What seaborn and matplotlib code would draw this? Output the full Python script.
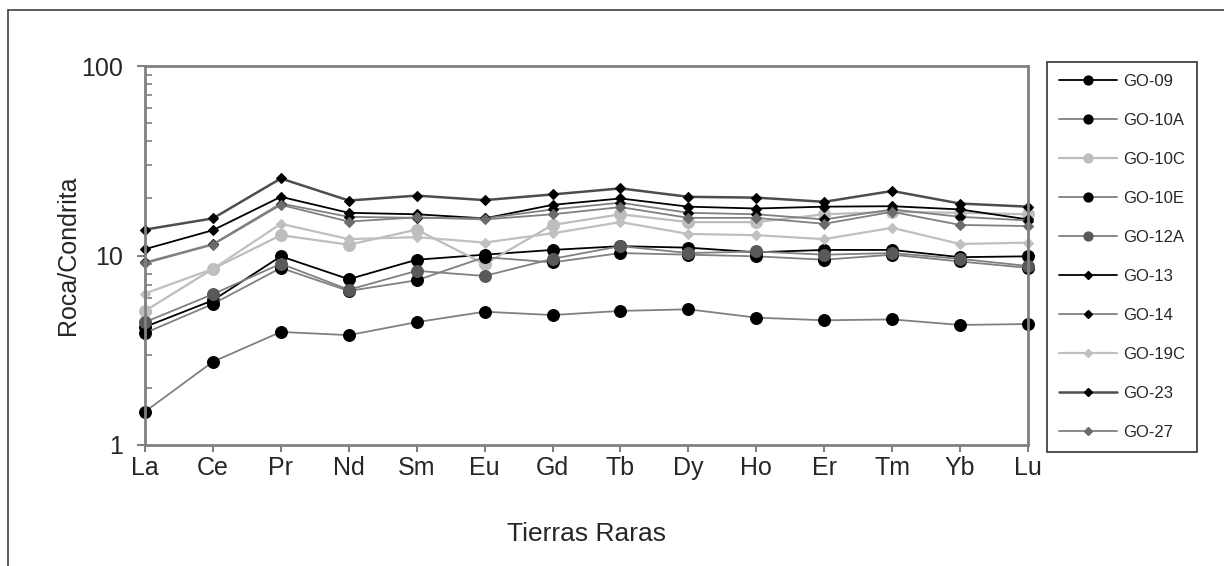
import numpy as np
import pandas as pd
import matplotlib
matplotlib.use("Agg")
import matplotlib.pyplot as plt
from matplotlib.lines import Line2D
import seaborn as sns

elements = ["La", "Ce", "Pr", "Nd", "Sm", "Eu", "Gd", "Tb", "Dy", "Ho", "Er", "Tm", "Yb", "Lu"]
samples = ["GO-09", "GO-10A", "GO-10C", "GO-10E", "GO-12A", "GO-13", "GO-14", "GO-19C", "GO-23", "GO-27"]

go_09 = [4.2, 5.8, 9.9, 7.5, 9.5, 10.1, 10.7, 11.2, 11.0, 10.4, 10.7, 10.7, 9.8, 9.9]
go_10a = [1.5, 2.75, 3.95, 3.8, 4.45, 5.05, 4.85, 5.1, 5.2, 4.7, 4.55, 4.6, 4.3, 4.35]
go_10c = [5.1, 8.5, 12.8, 11.4, 13.7, 9.0, 14.5, 16.5, 15.0, 15.0, 16.5, 17.0, 16.8, 16.5]
go_10e = [3.9, 5.55, 8.6, 6.5, 7.4, 9.8, 9.2, 10.3, 10.1, 9.9, 9.5, 10.1, 9.3, 8.6]
go_12a = [4.45, 6.25, 9.05, 6.6, 8.3, 7.8, 9.6, 11.2, 10.3, 10.5, 10.1, 10.3, 9.6, 8.8]
go_13 = [10.8, 13.6, 20.4, 16.8, 16.5, 15.7, 18.5, 20.0, 18.1, 17.7, 18.1, 18.2, 17.5, 15.5]
go_14 = [9.2, 11.5, 18.8, 16.0, 15.8, 15.7, 17.5, 19.0, 16.8, 16.5, 15.5, 17.5, 16.0, 15.3]
go_19c = [6.3, 8.5, 14.7, 12.2, 12.5, 11.7, 13.1, 15.0, 13.0, 12.8, 12.2, 14.0, 11.5, 11.7]
go_23 = [13.7, 15.7, 25.5, 19.5, 20.7, 19.6, 21.0, 22.6, 20.4, 20.2, 19.2, 21.9, 18.8, 18.1]
go_27 = [9.1, 11.4, 18.5, 15.1, 15.9, 15.5, 16.5, 18.0, 15.8, 15.8, 14.7, 17.0, 14.5, 14.3]

series = [go_09, go_10a, go_10c, go_10e, go_12a, go_13, go_14, go_19c, go_23, go_27]

styles = {
    "GO-09": dict(color="#000000", marker="o", mfc="#000000", ms=8.5, lw=1.3),
    "GO-10A": dict(color="#808080", marker="o", mfc="#000000", ms=8.5, lw=1.3),
    "GO-10C": dict(color="#BDBDBD", marker="o", mfc="#BDBDBD", ms=8.5, lw=1.6),
    "GO-10E": dict(color="#808080", marker="o", mfc="#000000", ms=8.5, lw=1.3),
    "GO-12A": dict(color="#808080", marker="o", mfc="#595959", ms=8.5, lw=1.3),
    "GO-13": dict(color="#000000", marker="D", mfc="#000000", ms=5.5, lw=1.3),
    "GO-14": dict(color="#808080", marker="D", mfc="#000000", ms=5.5, lw=1.3),
    "GO-19C": dict(color="#C0C0C0", marker="D", mfc="#C0C0C0", ms=5.5, lw=1.6),
    "GO-23": dict(color="#4D4D4D", marker="D", mfc="#000000", ms=5.5, lw=1.8),
    "GO-27": dict(color="#808080", marker="D", mfc="#6B6B6B", ms=5.5, lw=1.3),
}

rows = []
for name, vals in zip(samples, series):
    for i, (el, v) in enumerate(zip(elements, vals)):
        rows.append({"sample": name, "pos": i, "element": el, "value": v})
df = pd.DataFrame(rows)

sns.set_style("ticks")
plt.rcParams["font.family"] = ["Liberation Sans", "DejaVu Sans"]

fig = plt.figure(figsize=(12.24, 5.66), dpi=100)
ax = fig.add_axes([145 / 1224, 1 - 445 / 566, (1028 - 145) / 1224, (445 - 66) / 566])

for name in samples:
    st = styles[name]
    sub = df[df["sample"] == name]
    sns.lineplot(data=sub, x="pos", y="value", ax=ax, color=st["color"], lw=st["lw"],
                 marker=st["marker"], markersize=st["ms"], markerfacecolor=st["mfc"],
                 markeredgecolor=st["mfc"], markeredgewidth=0.8, label=name, clip_on=False,
                 legend=False)

ax.set_yscale("log")
ax.set_ylim(1, 100)
ax.set_xlim(0, len(elements) - 1)
ax.set_xticks(range(len(elements)))
ax.set_xticklabels(elements, fontsize=18)
ax.set_yticks([1, 10, 100])
ax.set_yticklabels(["1", "10", "100"], fontsize=18)
ax.yaxis.set_minor_locator(matplotlib.ticker.LogLocator(base=10, subs=np.arange(2, 10)))
ax.yaxis.set_minor_formatter(matplotlib.ticker.NullFormatter())
ax.tick_params(axis="y", which="major", direction="out", length=6, width=1.5, color="#808080", pad=10)
ax.tick_params(axis="y", which="minor", direction="in", length=5, width=1.2, color="#808080")
ax.tick_params(axis="x", which="major", direction="out", length=5, width=1.5, color="#808080", pad=3)
for sp in ax.spines.values():
    sp.set_color("#808080")
    sp.set_linewidth(2)
ax.set_xlabel("Tierras Raras", fontsize=19, labelpad=30)
ax.set_ylabel("Roca/Condrita", fontsize=18, labelpad=1)

handles = []
for name in samples:
    st = styles[name]
    handles.append(Line2D([0], [0], color=st["color"], lw=st["lw"], marker=st["marker"],
                          markersize=st["ms"] * 0.75, markerfacecolor=st["mfc"],
                          markeredgecolor=st["mfc"]))
leg = fig.legend(handles, samples, loc="upper left", bbox_to_anchor=(1047 / 1224, 1 - 62 / 566),
                 frameon=True, fancybox=False, fontsize=12, handlelength=3.5,
                 labelspacing=1.44, borderpad=0.72, handletextpad=0.35, borderaxespad=0)
leg.get_frame().set_edgecolor("#000000")
leg.get_frame().set_linewidth(1.2)

fig.add_artist(Line2D([8 / 1224, 8 / 1224], [0, 1 - 10 / 566], transform=fig.transFigure,
                      color="#404040", lw=1.2))
fig.add_artist(Line2D([8 / 1224, 1], [1 - 10 / 566, 1 - 10 / 566], transform=fig.transFigure,
                      color="#404040", lw=1.2))

fig.savefig("out.png", dpi=100, facecolor="white")
